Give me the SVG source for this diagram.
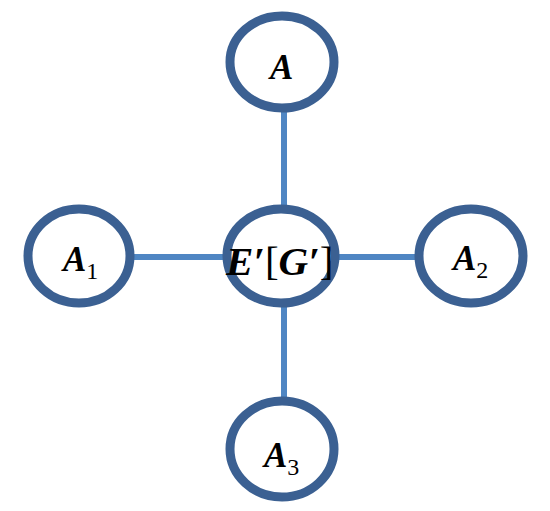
<svg xmlns="http://www.w3.org/2000/svg" width="550" height="511" viewBox="0 0 550 511">
<style>
.n{fill:#fff;stroke:#3b6092;stroke-width:9}
.c{stroke:#4f86c3;stroke-width:6;fill:none}
.t{font-family:"Times New Roman","Liberation Serif",serif;font-size:35px;font-style:italic;font-weight:bold;fill:#000}
.s{font-style:normal;font-size:24px;font-weight:normal}
.u{font-style:normal;font-weight:normal}
.e{font-size:41px}
</style>
<rect width="550" height="511" fill="#fff"/>
<g id="connectors">
<line class="c" x1="284" y1="110" x2="284" y2="210"/>
<line class="c" x1="134" y1="257" x2="228" y2="257"/>
<line class="c" x1="334" y1="257" x2="419" y2="257"/>
<line class="c" x1="284" y1="303" x2="284" y2="400"/>
</g>
<g id="nA"><ellipse class="n" cx="282" cy="62" rx="52" ry="46"/><text class="t" x="270" y="79">A</text></g>
<g id="nA1"><ellipse class="n" cx="79" cy="256" rx="51" ry="47"/><text class="t" x="63" y="271">A<tspan class="s" dy="8">1</tspan></text></g>
<g id="nE"><ellipse class="n" cx="281" cy="256" rx="54" ry="47"/><text class="t e" x="226" y="275">E′<tspan class="u">[</tspan>G′<tspan class="u">]</tspan></text></g>
<g id="nA2"><ellipse class="n" cx="471" cy="256" rx="52" ry="47"/><text class="t" x="453" y="270">A<tspan class="s" dy="8">2</tspan></text></g>
<g id="nA3"><ellipse class="n" cx="282" cy="449" rx="52" ry="48"/><text class="t" x="264" y="467">A<tspan class="s" dy="8">3</tspan></text></g>
</svg>
